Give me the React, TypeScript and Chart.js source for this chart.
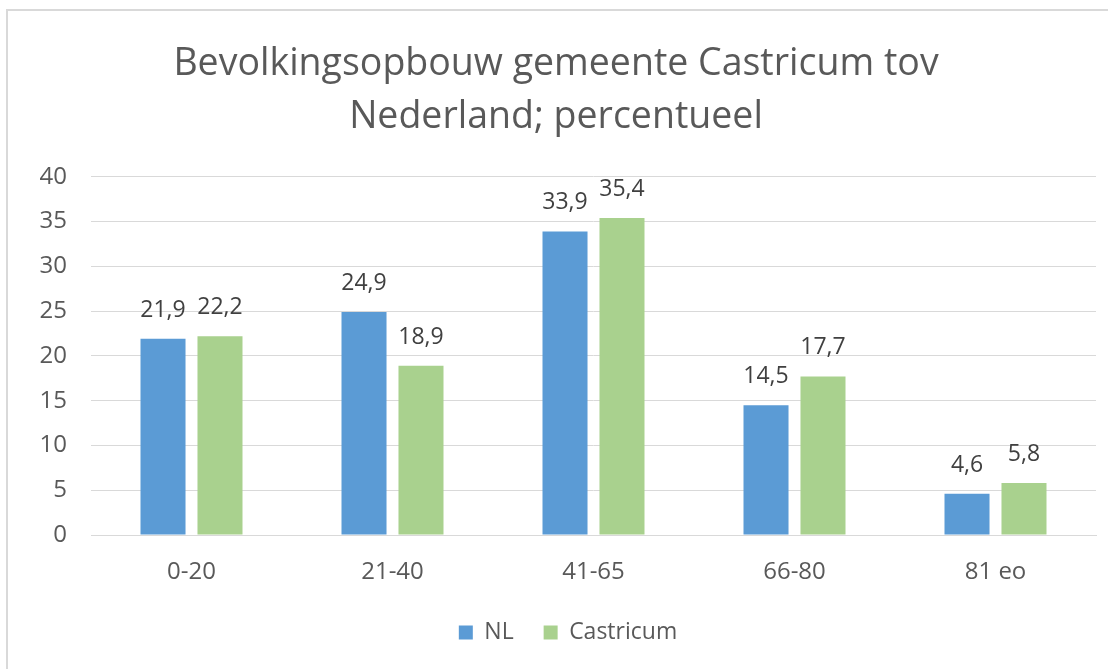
import React, { useEffect, useRef } from "react";
import { Chart, registerables } from "chart.js";

Chart.register(...registerables);

const categories = ["0-20", "21-40", "41-65", "66-80", "81 eo"];
const nlValues = [21.9, 24.9, 33.9, 14.5, 4.6];
const castricumValues = [22.2, 18.9, 35.4, 17.7, 5.8];
const seriesNames = ["NL", "Castricum"];
const titleLines = ["Bevolkingsopbouw gemeente Castricum tov", "Nederland; percentueel"];

const FONT = "'Open Sans', 'DejaVu Sans', sans-serif";

const dataLabelPlugin = {
  id: "dataLabels",
  afterDatasetsDraw(chart: any) {
    const ctx = chart.ctx;
    ctx.save();
    ctx.font = `23px ${FONT}`;
    ctx.fillStyle = "#404040";
    ctx.textAlign = "center";
    ctx.textBaseline = "alphabetic";
    chart.data.datasets.forEach((ds: any, di: number) => {
      const meta = chart.getDatasetMeta(di);
      meta.data.forEach((bar: any, i: number) => {
        const v = ds.data[i];
        const txt = String(v.toFixed(1)).replace(".", ",");
        ctx.fillText(txt, bar.x, bar.y - 22);
      });
    });
    ctx.restore();
  },
};

// The legend and title in the reference are centred on a chart frame that extends past the right edge.
const boxShiftPlugin = {
  id: "boxShift",
  afterLayout(chart: any) {
    const lg = chart.legend;
    if (lg) {
      lg.left += 20;
      lg.right += 20;
    }
    const tb = chart.titleBlock;
    if (tb) {
      tb.left += 8;
      tb.right += 8;
    }
  },
};

export default function App() {
  const ref = useRef<HTMLCanvasElement | null>(null);

  useEffect(() => {
    let chart: Chart | null = null;
    let cancelled = false;
    const make = () => {
      if (cancelled || !ref.current) return;
      chart = new Chart(ref.current, {
        type: "bar",
        data: {
          labels: categories,
          datasets: [
            {
              label: seriesNames[0],
              data: nlValues,
              backgroundColor: "#5B9BD5",
              categoryPercentage: 0.567,
              barPercentage: 0.79,
            },
            {
              label: seriesNames[1],
              data: castricumValues,
              backgroundColor: "#A9D18E",
              categoryPercentage: 0.567,
              barPercentage: 0.79,
            },
          ],
        },
        options: {
          responsive: false,
          animation: false,
          devicePixelRatio: 1,
          layout: { padding: { left: 0, right: 12, top: 0, bottom: 15 } },
          font: { family: FONT },
          plugins: {
            title: {
              display: true,
              text: titleLines,
              color: "#595959",
              font: { family: FONT, size: 37.5, weight: "normal", lineHeight: 1.41 },
              padding: { top: 38, bottom: 33 },
            },
            legend: {
              display: true,
              position: "bottom",
              labels: {
                color: "#595959",
                font: { family: FONT, size: 23 },
                boxWidth: 14,
                boxHeight: 14,
                padding: 30,
              },
            },
            tooltip: { enabled: false },
          },
          scales: {
            x: {
              grid: { display: false, drawTicks: false },
              border: { display: true, color: "#D9D9D9", width: 1 },
              ticks: {
                color: "#595959",
                font: { family: FONT, size: 24 },
                padding: 23,
                maxRotation: 0,
              },
              afterFit: (scale: any) => {
                scale.height = 56;
              },
            },
            y: {
              min: 0,
              max: 40,
              grid: { color: "#D9D9D9", lineWidth: 1, drawTicks: false },
              border: { display: false },
              ticks: {
                stepSize: 5,
                color: "#595959",
                font: { family: FONT, size: 24 },
                padding: 24,
              },
              afterFit: (scale: any) => {
                scale.width = 91;
              },
            },
          },
        },
        plugins: [dataLabelPlugin, boxShiftPlugin],
      });
    };
    const fontsAny: any = (document as any).fonts;
    if (fontsAny && fontsAny.load) {
      fontsAny.load(`23px "Open Sans"`).then(make, make);
    } else {
      make();
    }
    return () => {
      cancelled = true;
      if (chart) chart.destroy();
    };
  }, []);

  return (
    <div style={{ position: "fixed", left: 0, top: 0, width: 1108, height: 669, overflow: "hidden", background: "#fff" }}>
      <div
        style={{
          position: "absolute",
          left: 6,
          top: 9,
          width: 1200,
          height: 800,
          border: "2px solid #D9D9D9",
          boxSizing: "border-box",
        }}
      />
      <canvas ref={ref} width={1108} height={669} style={{ position: "absolute", left: 0, top: 0 }} />
    </div>
  );
}
